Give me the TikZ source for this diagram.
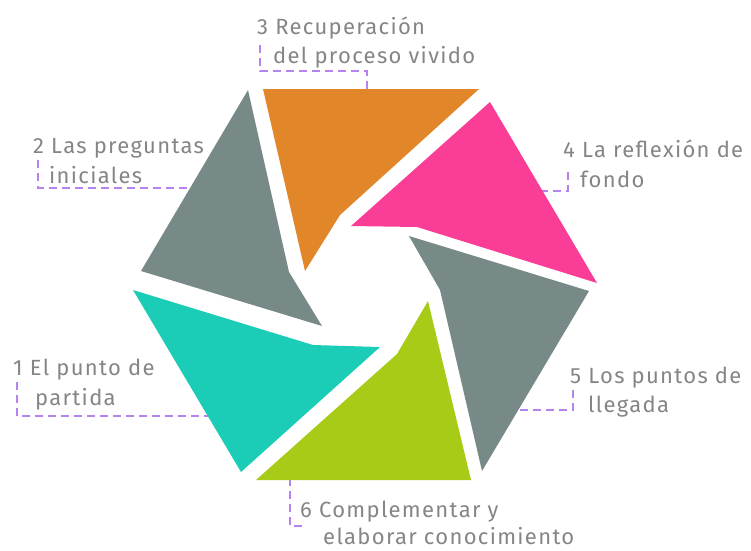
\documentclass[tikz,border=0pt]{standalone}
\usepackage{fontspec}
\setmainfont{Fira Sans}
\newfontfamily\lblfont[LetterSpace=6]{Fira Sans}
\definecolor{cOrange}{HTML}{E2862A}
\definecolor{cPink}{HTML}{FA3D96}
\definecolor{cGray}{HTML}{778A87}
\definecolor{cGreen}{HTML}{A8CB17}
\definecolor{cTeal}{HTML}{1BCDB6}
\definecolor{cText}{HTML}{858585}
\definecolor{cLead}{HTML}{B682EE}
\tikzset{
  blade/.style={draw=none},
  leader/.style={draw=cLead, line width=2pt, dash pattern=on 8pt off 5pt},
  lbl/.style={anchor=base west, inner sep=0pt, text=cText, font=\lblfont\fontsize{22}{26}\selectfont}
}
\begin{document}
\begin{tikzpicture}[x=1pt,y=-1pt]
\useasboundingbox (0,0) rectangle (751,550);
% leader coordinates
\coordinate (l3a) at (260,45);
\coordinate (l3b) at (260,71);
\coordinate (l3c) at (367,71);
\coordinate (l3d) at (367,92);
\coordinate (l2a) at (38,160);
\coordinate (l2b) at (38,188);
\coordinate (l2c) at (195,188);
\coordinate (l1a) at (17,382);
\coordinate (l1b) at (17,416);
\coordinate (l1c) at (215,416);
\coordinate (l6a) at (290,478);
\coordinate (l6b) at (290,526);
\coordinate (l6c) at (306,526);
\coordinate (l5a) at (573,390);
\coordinate (l5b) at (573,410);
\coordinate (l5c) at (515,410);
\coordinate (l4a) at (568,172);
\coordinate (l4b) at (568,191);
\coordinate (l4c) at (540,191);
\draw[leader] (l3a) -- (l3b) -- (l3c) -- (l3d);
\draw[leader] (l2a) -- (l2b) -- (l2c);
\draw[leader] (l1a) -- (l1b) -- (l1c);
\draw[leader] (l6a) -- (l6b) -- (l6c);
\draw[leader] (l5a) -- (l5b) -- (l5c);
\draw[leader] (l4a) -- (l4b) -- (l4c);
% blades
\fill[blade, cOrange] (263,89) -- (479,89) -- (340,215) -- (305,271) -- cycle;
\fill[blade, cPink] (490,102) -- (597,283) -- (417,227) -- (351,226) -- cycle;
\fill[blade, cGray] (409,236) -- (589,291) -- (482,471) -- (440,290) -- cycle;
\fill[blade, cGreen] (428,301) -- (471,480) -- (256,480) -- (397,354) -- cycle;
\fill[blade, cTeal] (133,290) -- (313,345) -- (380,347) -- (241,472) -- cycle;
\fill[blade, cGray] (248,90) -- (289,272) -- (322,326) -- (141,271) -- cycle;
% labels
\node[lbl] (t3a) at (257,34) {3 Recuperación};
\node[lbl] (t3b) at (273,63) {del proceso vivido};
\node[lbl] (t2a) at (33,153) {2 Las preguntas};
\node[lbl] (t2b) at (49,183) {iniciales};
\node[lbl] (t1a) at (13,375) {1 El punto de};
\node[lbl] (t1b) at (35,405) {partida};
\node[lbl] (t6a) at (300,517) {6 Complementar y};
\node[lbl] (t6b) at (323,544) {elaborar conocimiento};
\node[lbl] (t5a) at (570,383) {5 Los puntos de};
\node[lbl] (t5b) at (588,412) {llegada};
\node[lbl] (t4a) at (563,157) {4 La reflexión de};
\node[lbl] (t4b) at (580,187) {fondo};
\end{tikzpicture}
\end{document}
